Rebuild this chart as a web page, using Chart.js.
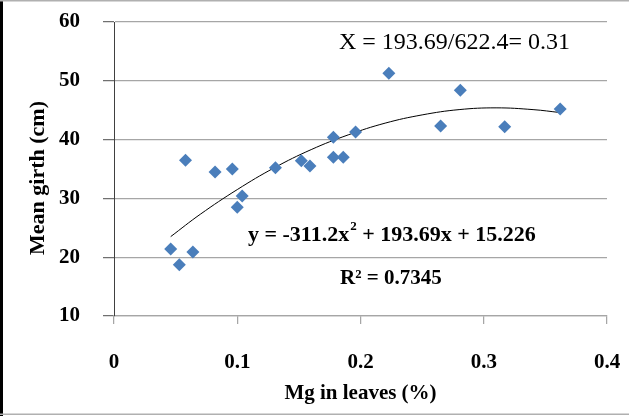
<!DOCTYPE html>
<html>
<head>
<meta charset="utf-8">
<script src="https://cdn.jsdelivr.net/npm/chart.js@4"></script>
<style>
  html, body { margin: 0; padding: 0; background: #fff; }
  #wrap { width: 629px; height: 416px; }
</style>
</head>
<body>
<div id="wrap"><canvas id="chart"></canvas></div>
<script>
// Mg in leaves (%) vs mean girth (cm)
const mgValues = [0.046, 0.053, 0.064, 0.058, 0.082, 0.096, 0.100, 0.104, 0.131, 0.152,
                  0.159, 0.178, 0.178, 0.186, 0.196, 0.223, 0.265, 0.281, 0.317, 0.362];
const girthValues = [21.4, 18.7, 20.9, 36.5, 34.5, 35.0, 28.5, 30.4, 35.2, 36.4,
                     35.5, 40.4, 37.0, 37.0, 41.3, 51.3, 42.3, 48.4, 42.2, 45.2];

// polynomial trendline as drawn
const trendX = [0.046, 0.07, 0.10, 0.13, 0.16, 0.19, 0.22, 0.25, 0.28, 0.31, 0.34, 0.362];
const trendY = [23.5, 27.3, 31.5, 35.2, 38.3, 40.8, 42.8, 44.2, 45.1, 45.4, 45.1, 44.6];

const xTicks = [0, 0.1, 0.2, 0.3, 0.4];
const yTicks = [10, 20, 30, 40, 50, 60];

const serif = 'Liberation Serif';
const gridGray = '#a6a6a6';

const points = mgValues.map((x, i) => ({ x: x, y: girthValues[i] }));
const trend = trendX.map((x, i) => ({ x: x, y: trendY[i] }));

// frame round the picture, y title and the text notes
const extras = {
    id: 'extras',
    afterDraw(chart) {
        const ctx = chart.ctx;
        ctx.save();
        ctx.fillStyle = '#000';
        ctx.fillRect(0, 0, 3, 416);
        ctx.fillStyle = '#b0b0b0';
        ctx.fillRect(0, 0, 629, 1.5);
        ctx.fillRect(0, 413.5, 629, 1.5);

        ctx.fillStyle = '#000';
        ctx.textBaseline = 'middle';

        // y axis title
        ctx.save();
        ctx.translate(38, 178);
        ctx.rotate(-Math.PI / 2);
        ctx.textAlign = 'center';
        ctx.font = 'bold 22px "' + serif + '"';
        ctx.fillText('Mean girth (cm)', 0, 0);
        ctx.restore();

        ctx.textAlign = 'left';
        ctx.font = '24px "' + serif + '"';
        ctx.fillText('X = 193.69/622.4= 0.31', 339, 43);

        ctx.font = 'bold 22px "' + serif + '"';
        let x = 248;
        const part1 = 'y = -311.2x';
        ctx.fillText(part1, x, 235);
        x += ctx.measureText(part1).width;
        ctx.font = 'bold 13px "' + serif + '"';
        ctx.fillText('2', x + 1, 227);
        x += ctx.measureText('2').width + 1;
        ctx.font = 'bold 22px "' + serif + '"';
        ctx.fillText(' + 193.69x + 15.226', x, 235);

        ctx.font = 'bold 21px "' + serif + '"';
        ctx.fillText('R\u00b2 = 0.7345', 340, 279);
        ctx.restore();
    }
};

new Chart(document.getElementById('chart'), {
    type: 'scatter',
    data: {
        datasets: [{
            label: 'Mean girth',
            data: points,
            pointStyle: 'rectRot',
            pointRadius: 6.5,
            pointHoverRadius: 6.5,
            backgroundColor: '#4a7ebb',
            borderColor: '#4a7ebb',
            borderWidth: 0
        }, {
            label: 'Trend',
            data: trend,
            showLine: true,
            pointRadius: 0,
            borderColor: '#000',
            borderWidth: 1,
            tension: 0.4
        }]
    },
    options: {
        responsive: true,
        maintainAspectRatio: false,
        animation: false,
        events: [],
        layout: { padding: { top: 22, right: 22, left: 0, bottom: 0 } },
        plugins: {
            legend: { display: false },
            tooltip: { enabled: false }
        },
        scales: {
            x: {
                type: 'linear',
                min: 0,
                max: 0.4,
                afterBuildTicks: (scale) => { scale.ticks = xTicks.map(v => ({ value: v })); },
                afterFit: (scale) => {
                    scale.height = 100;
                    scale.paddingLeft = 0;
                    scale.paddingRight = 0;
                },
                ticks: {
                    color: '#000',
                    padding: 26,
                    font: { family: serif, size: 21, weight: 'bold' },
                    callback: (v) => String(v)
                },
                grid: {
                    drawOnChartArea: false,
                    drawTicks: true,
                    tickLength: 8,
                    color: gridGray,
                    lineWidth: 1.25
                },
                border: { color: gridGray, width: 1.25 },
                title: {
                    display: true,
                    text: 'Mg in leaves (%)',
                    color: '#000',
                    font: { family: serif, size: 21, weight: 'bold' },
                    padding: { top: 0, bottom: 10 }
                }
            },
            y: {
                type: 'linear',
                min: 10,
                max: 60,
                afterBuildTicks: (scale) => { scale.ticks = yTicks.map(v => ({ value: v })); },
                afterFit: (scale) => {
                    scale.width = 114;
                    scale.paddingTop = 0;
                    scale.paddingBottom = 0;
                },
                ticks: {
                    color: '#000',
                    padding: 23,
                    font: { family: serif, size: 21, weight: 'bold' }
                },
                grid: {
                    color: gridGray,
                    tickColor: '#707070',
                    lineWidth: 1.25,
                    tickLength: 11
                },
                border: { color: '#404040', width: 1 },
                title: { display: false }
            }
        }
    },
    plugins: [extras]
});
</script>
</body>
</html>
